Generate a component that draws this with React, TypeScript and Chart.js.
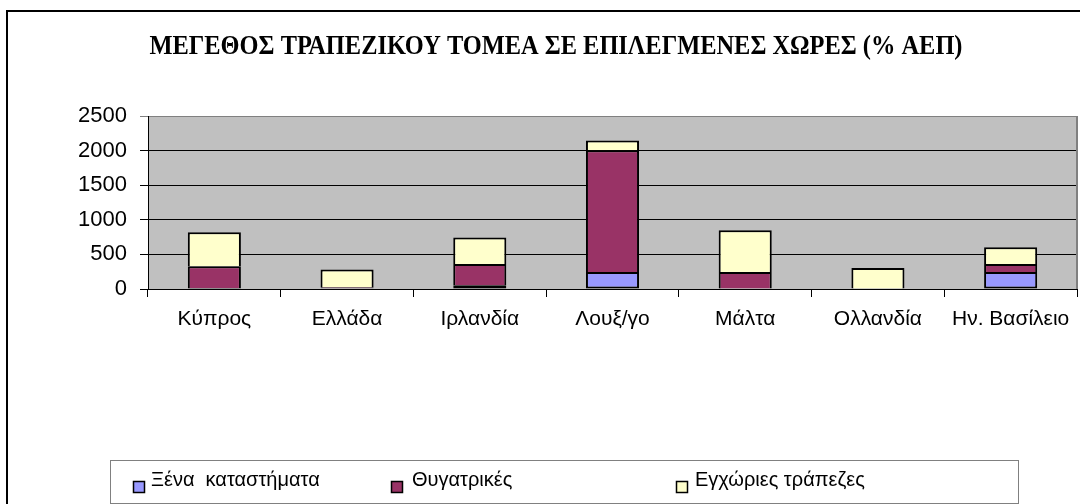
import React, { useEffect, useRef } from "react";
import { Chart, registerables } from "chart.js";

Chart.register(...registerables);

const categories = ["Κύπρος", "Ελλάδα", "Ιρλανδία", "Λουξ/γο", "Μάλτα", "Ολλανδία", "Ην. Βασίλειο"];
const foreignBranches = [15, 10, 55, 245, 0, 0, 245];
const subsidiaries = [315, 15, 305, 1760, 245, 0, 115];
const domesticBanks = [490, 255, 385, 140, 605, 305, 245];
const seriesNames = ["Ξένα  καταστήματα", "Θυγατρικές", "Εγχώριες τράπεζες"];
const yTickValues = [0, 500, 1000, 1500, 2000, 2500];
const chartTitle = "ΜΕΓΕΘΟΣ ΤΡΑΠΕΖΙΚΟΥ ΤΟΜΕΑ ΣΕ ΕΠΙΛΕΓΜΕΝΕΣ ΧΩΡΕΣ (% ΑΕΠ)";

const seriesColors = ["#9999FF", "#993366", "#FFFFCC"];
const FONT = "'Liberation Sans', Arial, sans-serif";

const decor = {
  id: "decor",
  beforeDraw(chart: any) {
    const { ctx, chartArea: a } = chart;
    ctx.save();
    ctx.fillStyle = "#ffffff";
    ctx.fillRect(0, 0, chart.width, chart.height);
    ctx.fillStyle = "#C0C0C0";
    ctx.fillRect(a.left, a.top, a.right - a.left, a.bottom - a.top);
    // outer frame
    ctx.fillStyle = "#000";
    ctx.fillRect(6, 10, 2, chart.height - 10);
    ctx.fillRect(6, 10, chart.width - 6, 2);
    ctx.restore();
  },
  afterDraw(chart: any) {
    const { ctx, chartArea: a } = chart;
    ctx.save();
    // plot area right border
    ctx.strokeStyle = "#808080";
    ctx.lineWidth = 2;
    ctx.beginPath();
    ctx.moveTo(a.right, a.top);
    ctx.lineTo(a.right, a.bottom);
    ctx.stroke();

    // title
    ctx.fillStyle = "#000";
    ctx.font = "bold 27px 'Liberation Serif', 'Times New Roman', serif";
    ctx.textAlign = "center";
    ctx.textBaseline = "middle";
    ctx.fillText(chartTitle, 556, 47, 813);

    // legend box
    ctx.strokeStyle = "#808080";
    ctx.lineWidth = 1;
    ctx.strokeRect(110.5, 460.5, 908, 43);
    const sqX = [133, 391, 676];
    const txX = [151, 412, 695];
    ctx.font = "20px " + FONT;
    ctx.textAlign = "left";
    ctx.textBaseline = "alphabetic";
    chart.data.datasets.forEach((ds: any, i: number) => {
      ctx.fillStyle = ds.backgroundColor;
      ctx.fillRect(sqX[i], 481, 12, 12);
      ctx.strokeStyle = "#000";
      ctx.lineWidth = 1.5;
      ctx.strokeRect(sqX[i] + 0.5, 481.5, 11, 11);
      ctx.fillStyle = "#000";
      ctx.fillText(ds.label, txX[i], 486);
    });
    ctx.restore();
  },
};

export default function App() {
  const ref = useRef<HTMLCanvasElement | null>(null);

  useEffect(() => {
    if (!ref.current) return;
    const series = [foreignBranches, subsidiaries, domesticBanks];
    const chart = new Chart(ref.current, {
      type: "bar",
      data: {
        labels: categories,
        datasets: series.map((d, i) => ({
          label: seriesNames[i],
          data: d,
          backgroundColor: seriesColors[i],
          borderColor: "#000",
          borderWidth: { top: 2, left: 2, right: 2, bottom: i === 0 ? 2 : 0 },
          borderSkipped: false,
          categoryPercentage: 1,
          barPercentage: 0.4,
        })),
      },
      options: {
        animation: false,
        responsive: false,
        maintainAspectRatio: false,
        devicePixelRatio: 1,
        layout: { padding: { left: 0, right: 3, top: 116, bottom: 0 } },
        plugins: {
          legend: { display: false },
          title: { display: false },
          tooltip: { enabled: false },
        },
        scales: {
          x: {
            stacked: true,
            offset: true,
            grid: {
              offset: true,
              drawOnChartArea: false,
              drawTicks: true,
              tickLength: 8,
              color: "#000",
              lineWidth: 1,
            },
            border: { color: "#000", width: 1 },
            ticks: {
              color: "#000",
              font: { family: FONT, size: 21 },
              padding: 10,
              maxRotation: 0,
              autoSkip: false,
            },
            afterFit(scale: any) {
              scale.height = 504 - 289;
            },
          },
          y: {
            stacked: true,
            min: yTickValues[0],
            max: yTickValues[yTickValues.length - 1],
            afterBuildTicks(scale: any) {
              scale.ticks = yTickValues.map((v) => ({ value: v }));
            },
            grid: {
              color: (ctx: any) => (ctx.tick && ctx.tick.value === 2500 ? "#808080" : "#000"),
              lineWidth: 1,
              drawTicks: true,
              tickLength: 8,
            },
            border: { color: "#000", width: 1 },
            ticks: {
              color: "#000",
              font: { family: FONT, size: 22 },
              padding: 13,
              callback: (v: any) => String(v),
            },
            afterFit(scale: any) {
              scale.width = 148;
            },
          },
        },
      },
      plugins: [decor],
    });
    return () => chart.destroy();
  }, []);

  return (
    <div style={{ position: "fixed", left: 0, top: 0, width: 1080, height: 504, background: "#fff" }}>
      <canvas ref={ref} width={1080} height={504} style={{ width: 1080, height: 504, display: "block" }} />
    </div>
  );
}
